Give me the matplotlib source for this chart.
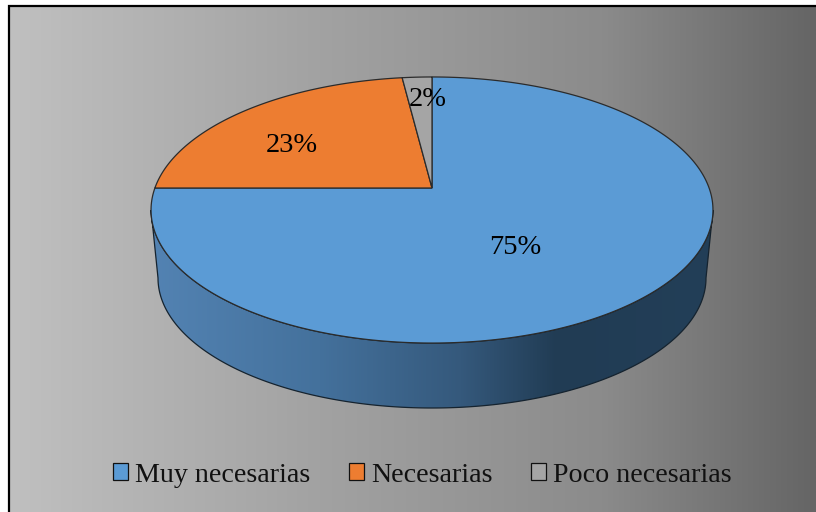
import numpy as np
import matplotlib
matplotlib.use("Agg")
import matplotlib.pyplot as plt
from matplotlib.patches import Polygon, Patch
from matplotlib.colors import LinearSegmentedColormap

categories = ["Muy necesarias", "Necesarias", "Poco necesarias"]
values = [75, 23, 2]
colors = ["#5B9BD5", "#ED7D31", "#A5A5A5"]
label_pos = [(515, 247), (292, 145), (428, 99)]

plt.rcParams['font.family'] = ['Liberation Serif', 'DejaVu Serif']
W, H = 816, 512
fig = plt.figure(figsize=(W / 100, H / 100), dpi=100, facecolor="white")
ax = fig.add_axes([0, 0, 1, 1])

# background gradient
xs = np.linspace(0, 1, 512)[None, :]
cmap_bg = LinearSegmentedColormap.from_list(
    "bg", [(0, "#c0c0c0"), (0.37, "#a3a3a3"), (0.735, "#8b8b8b"), (1, "#656565")], N=512)
ax.imshow(xs, extent=(9, W, H, 6), cmap=cmap_bg, aspect="auto", zorder=0)
ax.plot([9, 9, W], [H, 6, 6], color="black", lw=1.6, zorder=1, solid_joinstyle="miter")

# perspective disc
cx, cy = 432.0, 188.0
k, a, b = 0.1654, 277.1, 129.4


def project(theta):
    """theta measured clockwise from 12 o'clock, radians."""
    u, v = np.sin(theta), np.cos(theta)
    f = 1 + k * v
    return cx + a * u / f, cy - b * v / f


# side wall: front rim of the disc down to a slightly smaller lower rim
t0 = np.arccos(-k)
th = np.linspace(t0, 2 * np.pi - t0, 300)
top_x, top_y = project(th)
t = np.linspace(0, np.pi, 300)
low_x = 432.0 + 274.0 * np.cos(t)
low_y = 278.0 + 130.0 * np.sin(t)
wall = np.column_stack([np.r_[top_x, low_x[::-1]], np.r_[top_y, low_y[::-1]]])
cmap_side = LinearSegmentedColormap.from_list(
    "side", [(0, "#5383B3"), (0.3, "#44719C"), (0.55, "#35597C"), (0.72, "#213C54"), (1, "#233F58")], N=512)
wall_patch = Polygon(wall, closed=True, facecolor="none", edgecolor="none", zorder=2)
ax.add_patch(wall_patch)
im = ax.imshow(xs, extent=(150, 715, 410, 200), cmap=cmap_side, aspect="auto", zorder=2)
im.set_clip_path(wall_patch)
ax.add_patch(Polygon(wall, closed=True, facecolor="none", edgecolor="#15232f", lw=0.9, zorder=3))

# wedges, clockwise from 12 o'clock
total = sum(values)
start = 0.0
for i in range(len(values)):
    end = start + values[i] / total * 2 * np.pi
    arc = np.linspace(start, end, 300)
    px, py = project(arc)
    pts = np.column_stack([np.r_[cx, px], np.r_[cy, py]])
    ax.add_patch(Polygon(pts, closed=True, facecolor=colors[i], edgecolor="#2b2b2b", lw=0.9, zorder=4))
    start = end

for val, (lx, ly) in zip(values, label_pos):
    ax.text(lx, ly, f"{val}%", ha="center", va="center", fontsize=20.5, color="black", zorder=5)

handles = [Patch(facecolor=c, edgecolor="#111111", lw=0.9) for c in colors]
ax.legend(handles, categories, ncols=3, loc="center", bbox_to_anchor=(422.5 / W, 1 - 475 / H),
          frameon=False, fontsize=20.2, handlelength=0.54, handleheight=0.54, handletextpad=0.25,
          columnspacing=1.37, borderpad=0, labelcolor="#111111")

ax.set_xlim(0, W)
ax.set_ylim(H, 0)
ax.axis("off")
fig.savefig("out.png", dpi=100)
